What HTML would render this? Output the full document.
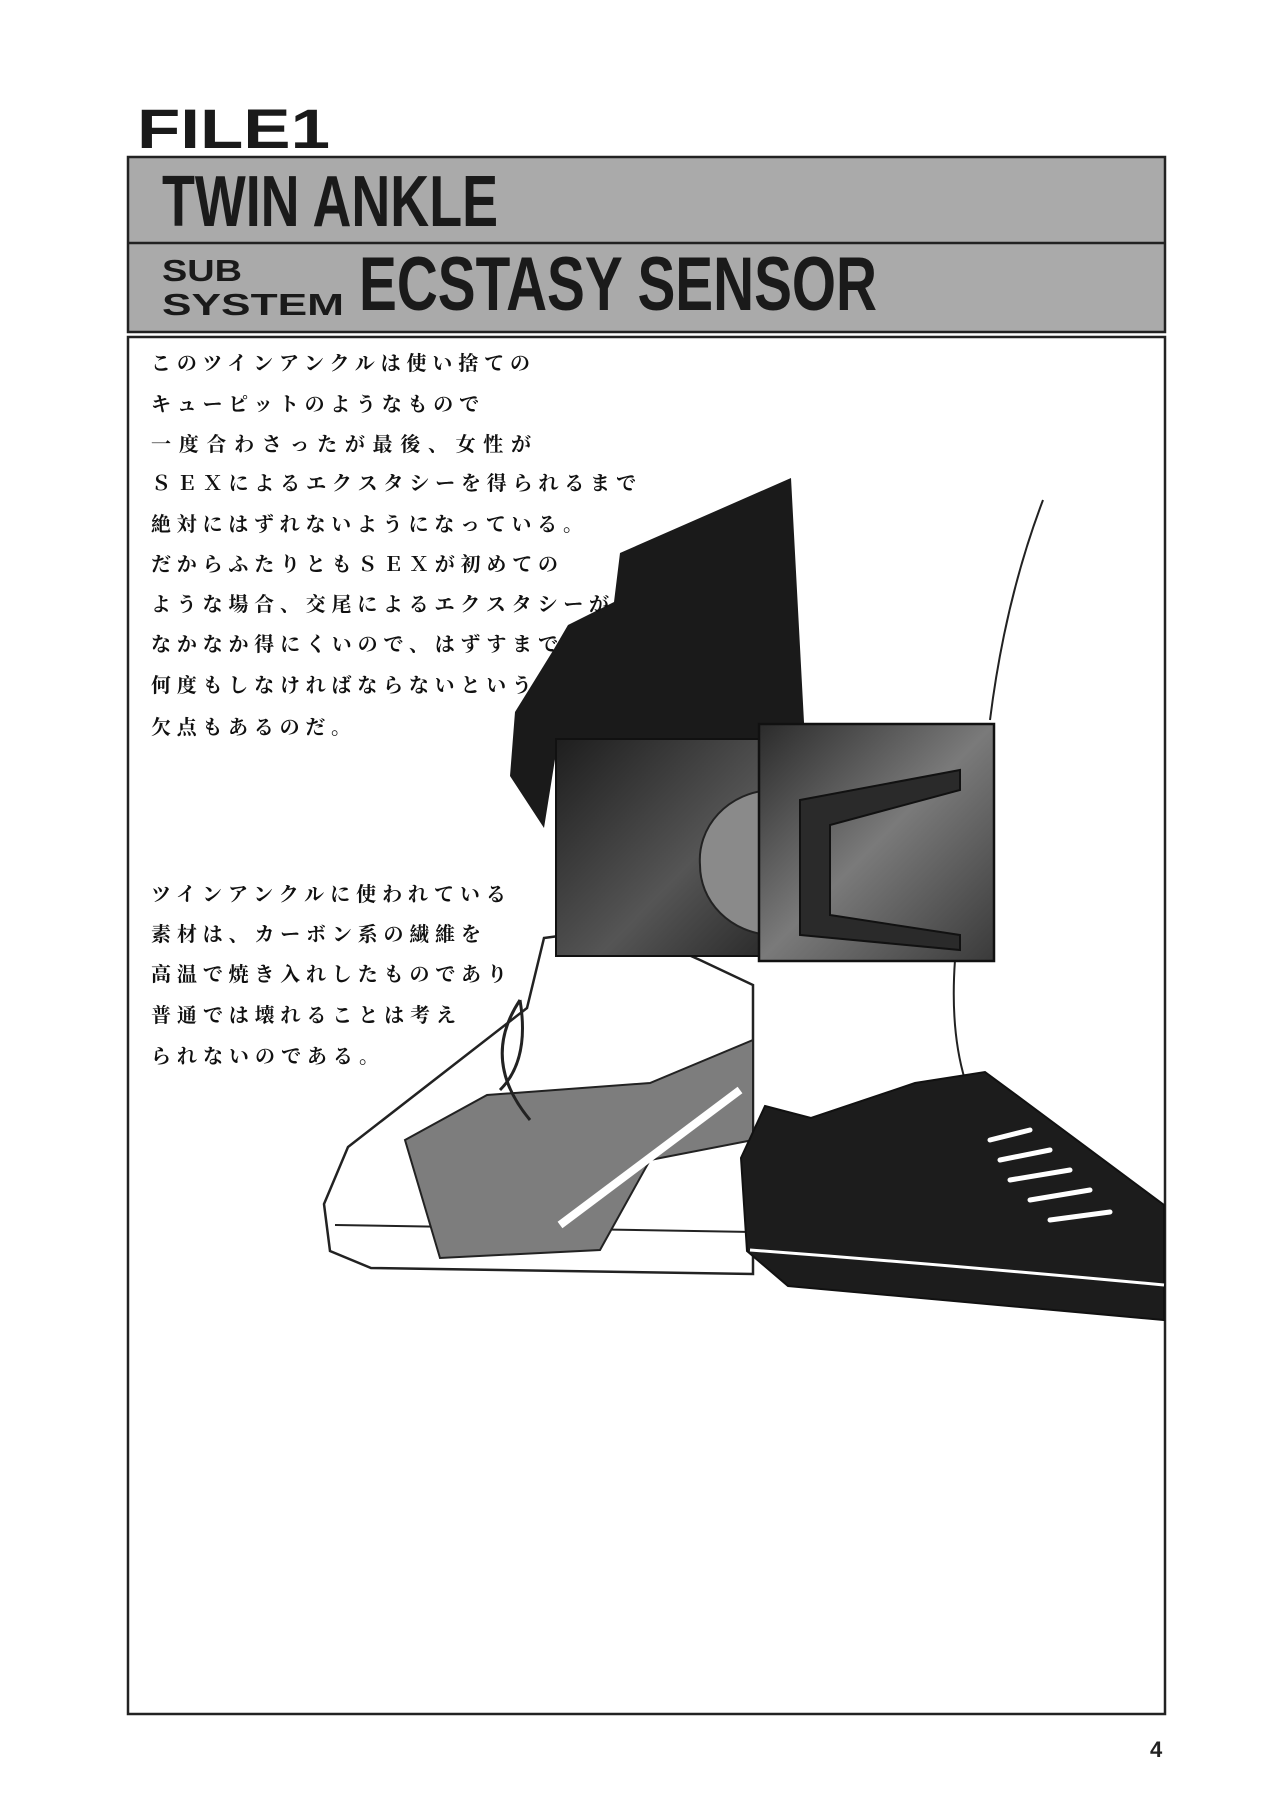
<!DOCTYPE html>
<html><head><meta charset="utf-8"><style>
html,body{margin:0;padding:0;background:#fff;}
svg{display:block;}
.jp{font-family:"Liberation Serif","Noto Serif CJK SC","Noto Sans CJK JP",serif;font-size:20px;fill:#111;font-weight:bold;}
.hd{font-family:"Liberation Sans",sans-serif;fill:#1a1a1a;}
</style></head><body>
<svg width="1280" height="1817" viewBox="0 0 1280 1817" xmlns="http://www.w3.org/2000/svg">
<defs>
<linearGradient id="band" x1="0" y1="0" x2="1" y2="1">
<stop offset="0" stop-color="#1e1e1e"/><stop offset="0.6" stop-color="#555"/><stop offset="1" stop-color="#2a2a2a"/></linearGradient>
<linearGradient id="buck" x1="0" y1="0" x2="1" y2="1">
<stop offset="0" stop-color="#2b2b2b"/><stop offset="0.5" stop-color="#7a7a7a"/><stop offset="1" stop-color="#3a3a3a"/></linearGradient>
</defs>
<rect width="1280" height="1817" fill="#fff"/>
<text class="hd" x="137" y="148" font-size="56" font-weight="bold" textLength="193" lengthAdjust="spacingAndGlyphs">FILE1</text>
<rect x="128" y="157" width="1037" height="175" fill="#aaaaaa" stroke="#222" stroke-width="2.5"/>
<line x1="128" y1="243" x2="1165" y2="243" stroke="#222" stroke-width="2.5"/>
<text class="hd" x="162" y="226" font-size="72" font-weight="bold" textLength="336" lengthAdjust="spacingAndGlyphs">TWIN ANKLE</text>
<text class="hd" x="162" y="281" font-size="31" font-weight="bold" textLength="80" lengthAdjust="spacingAndGlyphs">SUB</text>
<text class="hd" x="162" y="315" font-size="31" font-weight="bold" textLength="182" lengthAdjust="spacingAndGlyphs">SYSTEM</text>
<text class="hd" x="359" y="310" font-size="76" font-weight="bold" textLength="518" lengthAdjust="spacingAndGlyphs">ECSTASY SENSOR</text>
<rect x="128" y="337" width="1037" height="1377" fill="none" stroke="#222" stroke-width="2.5"/>

<path d="M1043 500 Q1005 600 990 720" fill="none" stroke="#222" stroke-width="2"/>
<path d="M955 960 Q950 1030 965 1080" fill="none" stroke="#222" stroke-width="2"/>
<path d="M585 955 Q590 1000 600 1040" fill="none" stroke="#222" stroke-width="2"/>
<path d="M544 938 L626 927 L700 960 L753 985 L753 1274 L371 1268 L330 1251 L324 1204 L348 1147 L460 1060 L527 1008 Z" fill="#fff" stroke="#222" stroke-width="2.5"/>
<path d="M335 1225 L753 1232" stroke="#222" stroke-width="2" fill="none"/>
<path d="M405 1140 L487 1095 L650 1083 L753 1040 L753 1140 L650 1160 L600 1250 L440 1258 Z" fill="#7d7d7d" stroke="#222" stroke-width="2"/>
<path d="M560 1225 L740 1090" stroke="#fff" stroke-width="8"/>
<path d="M500 1090 Q530 1060 520 1000 M520 1000 Q480 1060 530 1120" fill="none" stroke="#222" stroke-width="3"/>
<path d="M765 1106 L811 1118 L915 1083 L985 1072 L1031 1106 L1164 1205 L1164 1320 L788 1286 L747 1251 L741 1158 Z" fill="#1c1c1c" stroke="#111" stroke-width="2"/>
<path d="M750 1250 Q950 1265 1164 1285" fill="none" stroke="#fff" stroke-width="3"/>
<g stroke="#fff" stroke-width="5" stroke-linecap="round">
<line x1="990" y1="1140" x2="1030" y2="1130"/><line x1="1000" y1="1160" x2="1050" y2="1150"/>
<line x1="1010" y1="1180" x2="1070" y2="1170"/><line x1="1030" y1="1200" x2="1090" y2="1190"/>
<line x1="1050" y1="1220" x2="1110" y2="1212"/></g>
<path d="M620 553 L791 478 L805 741 L556 753 L544 828 L510 776 L515 712 L533 683 L554 649 L568 625 L614 602 Z" fill="#1a1a1a"/>
<rect x="556" y="739" width="214" height="217" fill="url(#band)" stroke="#111" stroke-width="2"/>
<path d="M770 790 A75 70 0 0 0 700 865 A75 70 0 0 0 770 935 Z" fill="#8a8a8a" stroke="#222" stroke-width="2"/>
<rect x="759" y="724" width="235" height="237" fill="url(#buck)" stroke="#111" stroke-width="2.5"/>
<path d="M800 800 L960 770 L960 790 L830 825 L830 915 L960 935 L960 950 L800 935 Z" fill="#2a2a2a" stroke="#111" stroke-width="2"/>

<g class="jp">
<text x="151" y="370" textLength="379" lengthAdjust="spacing">このツインアンクルは使い捨ての</text>
<text x="151" y="411" textLength="328" lengthAdjust="spacing">キューピットのようなもので</text>
<text x="151" y="451" textLength="380" lengthAdjust="spacing">一度合わさったが最後、女性が</text>
<text x="151" y="490" textLength="485" lengthAdjust="spacing">ＳＥＸによるエクスタシーを得られるまで</text>
<text x="151" y="531" textLength="432" lengthAdjust="spacing">絶対にはずれないようになっている。</text>
<text x="151" y="571" textLength="407" lengthAdjust="spacing">だからふたりともＳＥＸが初めての</text>
<text x="151" y="611" textLength="458" lengthAdjust="spacing">ような場合、交尾によるエクスタシーが</text>
<text x="151" y="651" textLength="407" lengthAdjust="spacing">なかなか得にくいので、はずすまで</text>
<text x="151" y="692" textLength="381" lengthAdjust="spacing">何度もしなければならないという</text>
<text x="151" y="734" textLength="200" lengthAdjust="spacing">欠点もあるのだ。</text>
<text x="151" y="901" textLength="355" lengthAdjust="spacing">ツインアンクルに使われている</text>
<text x="151" y="941" textLength="330" lengthAdjust="spacing">素材は、カーボン系の繊維を</text>
<text x="151" y="981" textLength="356" lengthAdjust="spacing">高温で焼き入れしたものであり</text>
<text x="151" y="1022" textLength="305" lengthAdjust="spacing">普通では壊れることは考え</text>
<text x="151" y="1063" textLength="228" lengthAdjust="spacing">られないのである。</text>
</g>
<text x="1150" y="1757" font-family="Liberation Sans, sans-serif" font-weight="bold" font-size="22" fill="#222">4</text>
</svg>
</body></html>
